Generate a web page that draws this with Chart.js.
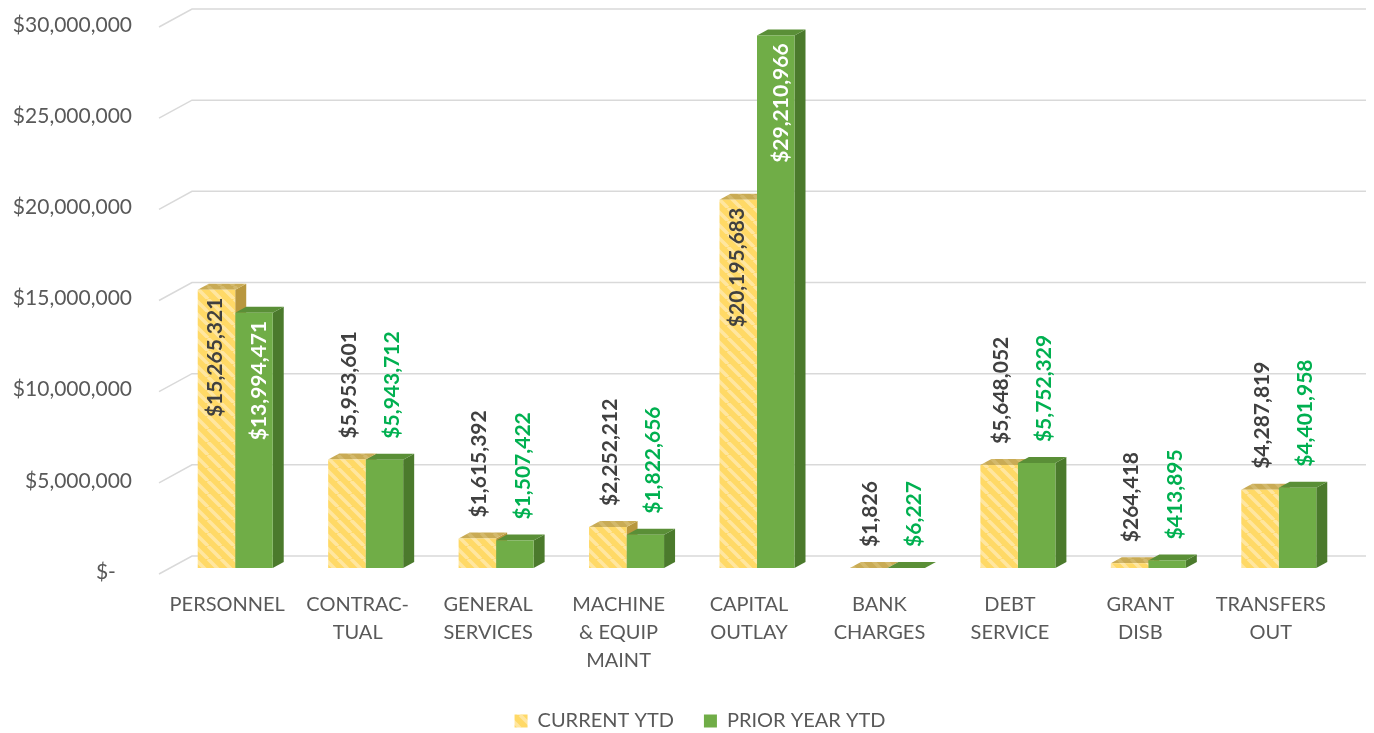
<!DOCTYPE html>
<html>
<head>
<meta charset="utf-8">
<script src="https://cdn.jsdelivr.net/npm/chart.js@4.4.1/dist/chart.umd.min.js"></script>
<style>
  html, body { margin: 0; padding: 0; background: #fff; }
  #wrap { width: 1374px; height: 733px; }
</style>
</head>
<body>
<div id="wrap"><canvas id="chart" width="1374" height="733"></canvas></div>
<script>
const categories = [
    ['PERSONNEL'], ['CONTRAC-', 'TUAL'], ['GENERAL', 'SERVICES'], ['MACHINE', '& EQUIP', 'MAINT'],
    ['CAPITAL', 'OUTLAY'], ['BANK', 'CHARGES'], ['DEBT', 'SERVICE'], ['GRANT', 'DISB'], ['TRANSFERS', 'OUT']
];
const currentYTD = [15265321, 5953601, 1615392, 2252212, 20195683, 1826, 5648052, 264418, 4287819];
const priorYTD = [13994471, 5943712, 1507422, 1822656, 29210966, 6227, 5752329, 413895, 4401958];
const seriesNames = ['CURRENT YTD', 'PRIOR YEAR YTD'];
const yMax = 30000000;
const yStep = 5000000;

const FONT = 'Lato, "Open Sans", sans-serif';
const fmt = v => '$' + v.toLocaleString('en-US');

// striped yellow fill
function stripes(base, light) {
    const c = document.createElement('canvas');
    c.width = 13; c.height = 13;
    const g = c.getContext('2d');
    g.fillStyle = base;
    g.fillRect(0, 0, 13, 13);
    g.strokeStyle = light;
    g.lineWidth = 3.5;
    [-13, 0, 13].forEach(o => {
        g.beginPath();
        g.moveTo(o, 0);
        g.lineTo(o + 13, 13);
        g.stroke();
    });
    return g.createPattern(c, 'repeat');
}
const ctx = document.getElementById('chart').getContext('2d');
const yellow = stripes('#FFD966', '#FFE6A0');
const yellowTop = stripes('#C9AB55', '#D3B96C');

const faces = [
    { top: yellowTop, side: '#B8973E', label: '#404040', inLabel: '#404040', off: 2 },
    { top: '#5A8F37', side: '#4B7A2C', label: '#00B050', inLabel: '#FFFFFF', off: 8 }
];
const dx = 11, dy = -6;

const threeD = {
    id: 'threeD',
    afterLayout(chart) {
        // legend sits a bit right of centre in the original
        chart.legend.left += 28;
        chart.legend.right += 28;
    },
    beforeDatasetsDraw(chart) {
        const c = chart.ctx, ys = chart.scales.y, area = chart.chartArea;
        c.save();
        // 3d wall gridlines
        c.strokeStyle = '#D9D9D9';
        c.lineWidth = 1.5;
        ys.ticks.forEach(t => {
            const py = ys.getPixelForValue(t.value);
            c.beginPath();
            c.moveTo(area.left - 11, py + 6);
            c.lineTo(area.left + 22, py - 12);
            c.lineTo(area.right + 22, py - 12);
            c.stroke();
        });
        // top and side faces, front faces come from chart.js
        categories.forEach((_, i) => {
            chart.data.datasets.forEach((ds, d) => {
                const bar = chart.getDatasetMeta(d).data[i];
                const l = bar.x - bar.width / 2, r = bar.x + bar.width / 2;
                const t = bar.y, b = bar.base;
                c.fillStyle = faces[d].side;
                c.beginPath();
                c.moveTo(r, t); c.lineTo(r + dx, t + dy); c.lineTo(r + dx, b + dy); c.lineTo(r, b);
                c.closePath(); c.fill();
                c.fillStyle = faces[d].top;
                c.beginPath();
                c.moveTo(l, t); c.lineTo(l + dx, t + dy); c.lineTo(r + dx, t + dy); c.lineTo(r, t);
                c.closePath(); c.fill();
            });
        });
        c.restore();
    },
    afterDatasetsDraw(chart) {
        const c = chart.ctx;
        c.save();
        c.font = 'bold 21px ' + FONT;
        c.textBaseline = 'middle';
        chart.data.datasets.forEach((ds, d) => {
            chart.getDatasetMeta(d).data.forEach((bar, i) => {
                const txt = fmt(ds.data[i]);
                const w = c.measureText(txt).width;
                const h = bar.base - bar.y;
                c.save();
                if (h > w + 30) {
                    c.translate(bar.x + faces[d].off - 3, bar.y + 8);
                    c.rotate(-Math.PI / 2);
                    c.textAlign = 'right';
                    c.fillStyle = faces[d].inLabel;
                } else {
                    c.translate(bar.x + faces[d].off, bar.y - 21);
                    c.rotate(-Math.PI / 2);
                    c.textAlign = 'left';
                    c.fillStyle = faces[d].label;
                }
                c.fillText(txt, 0, 0);
                c.restore();
            });
        });
        c.restore();
    }
};

new Chart(ctx, {
    type: 'bar',
    data: {
        labels: categories,
        datasets: [
            { label: seriesNames[0], data: currentYTD, backgroundColor: yellow },
            { label: seriesNames[1], data: priorYTD, backgroundColor: '#70AD47' }
        ]
    },
    options: {
        responsive: false,
        animation: false,
        events: [],
        datasets: { bar: { categoryPercentage: 0.575, barPercentage: 1 } },
        layout: { padding: { top: 21, right: 30, left: 0, bottom: -8 } },
        plugins: {
            tooltip: { enabled: false },
            legend: {
                position: 'bottom',
                labels: {
                    color: '#595959',
                    font: { family: FONT, size: 20 },
                    boxWidth: 13,
                    boxHeight: 13,
                    padding: 30
                }
            }
        },
        scales: {
            x: {
                grid: { display: false, drawTicks: false },
                border: { display: false },
                ticks: {
                    color: '#595959',
                    font: { family: FONT, size: 20, lineHeight: 1.42 },
                    padding: 22,
                    labelOffset: -8,
                    maxRotation: 0,
                    autoSkip: false
                },
                afterFit(scale) { scale.height = 113; }
            },
            y: {
                min: 0,
                max: yMax,
                grid: { display: false, drawTicks: false },
                border: { display: false },
                ticks: {
                    stepSize: yStep,
                    color: '#595959',
                    font: { family: FONT, size: 21 },
                    padding: 38,
                    labelOffset: 4,
                    callback: v => v === 0 ? '$-\u00a0\u00a0\u00a0' : fmt(v)
                },
                afterFit(scale) {
                    scale.width = 170;
                    scale.paddingTop = 0;
                    scale.paddingBottom = 0;
                }
            }
        }
    },
    plugins: [threeD]
});
</script>
</body>
</html>
